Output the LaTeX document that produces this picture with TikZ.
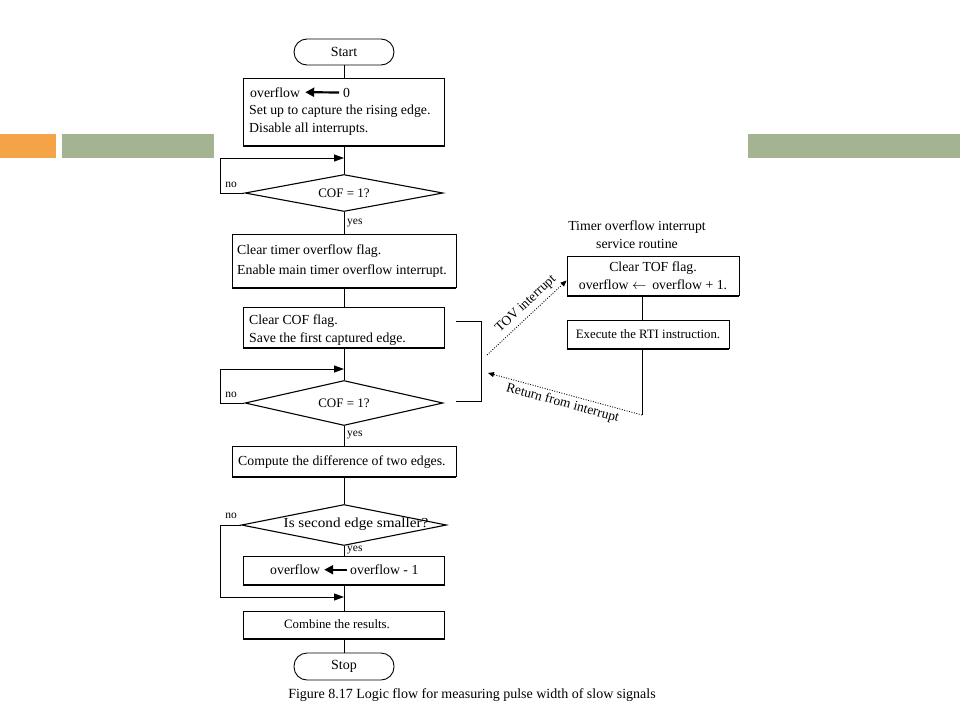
\documentclass[tikz,border=0pt]{standalone}
\usepackage{fontspec}
\setmainfont{Liberation Serif}
\usetikzlibrary{arrows.meta,shapes.geometric,calc}
\definecolor{slorange}{RGB}{244,164,70}
\definecolor{slgreen}{RGB}{164,180,146}
\begin{document}
\begin{tikzpicture}[x=1pt,y=-1pt,
  every node/.style={inner sep=0pt, font=\fontsize{13.8}{18}\selectfont},
  box/.style={draw, line width=0.9pt, append after command={([yshift=-0.4pt]\tikzlastnode.south west) edge[line width=1.8pt] ([yshift=-0.4pt]\tikzlastnode.south east)}},
  term/.style={draw, line width=0.9pt, rounded corners=13pt, font=\fontsize{14}{16}\selectfont},
  dec/.style={draw, shape=diamond, line width=1.1pt, aspect=5.5, font=\fontsize{13}{15}\selectfont},
  flow/.style={line width=0.9pt},
  loopar/.style={line width=1pt, -{Triangle[length=10pt,width=7pt]}},
  bigar/.style={line width=2.2pt, -{Triangle[length=9pt,width=9pt]}},
  dotar/.style={line width=0.9pt, dash pattern=on 0.9pt off 1.6pt, -{Triangle[length=6pt,width=5pt]}},
  lab/.style={font=\fontsize{11.5}{13}\selectfont}]
\useasboundingbox (0,0) rectangle (960,720);
% slide decoration
\fill[slorange] (0,134) rectangle (56,158);
\fill[slgreen] (62,134) rectangle (214,158);
\fill[slgreen] (748,134) rectangle (960,158);

% main column
\node[term, minimum width=100pt, minimum height=26pt] (start) at (344,52) {Start};
\node[box, minimum width=201pt, minimum height=67pt] (b1) at (344,111.5) {};
\node[anchor=base west] (ov1) at (250,97) {overflow};
\node[anchor=base west] (z1) at (343,97) {0};
\node[anchor=base west] (t1b) at (249,114.5) {Set up to capture the rising edge.};
\node[anchor=base west] (t1c) at (249,132) {Disable all interrupts.};
\draw[bigar] ([xshift=-4pt]z1.west) -- ([xshift=5pt]ov1.east);

\node[dec, minimum width=198pt, minimum height=37pt] (d1) at (344,193) {COF = 1?};
\node[box, minimum width=224pt, minimum height=53pt] (b2) at (344,260.5) {};
\node[anchor=base west] (t2a) at (237,254) {Clear timer overflow flag.};
\node[anchor=base west] (t2b) at (237,274) {Enable main timer overflow interrupt.};
\node[box, minimum width=201pt, minimum height=40pt] (b3) at (344,327) {};
\node[anchor=base west] (t3a) at (249,324.5) {Clear COF flag.};
\node[anchor=base west] (t3b) at (249,342) {Save the first captured edge.};
\node[dec, minimum width=198pt, minimum height=45pt] (d2) at (344,403) {COF = 1?};
\node[box, minimum width=224pt, minimum height=30pt] (b4) at (344,461) {};
\node[anchor=base west] (t4) at (238,465.5) {Compute the difference of two edges.};
\node[dec, minimum width=205pt, minimum height=41pt] (d3) at (344,525) {};
\node (t5q) at (356,524) {\scalebox{1.1}[1]{\fontsize{13.8}{15}\selectfont Is second edge smaller?}};
\node[box, minimum width=201pt, minimum height=28pt] (b5) at (344,570) {};
\node[anchor=base west] (ov5) at (270,574.5) {overflow};
\node[anchor=base west] (ov5b) at (350,574.5) {overflow - 1};
\draw[bigar] ([xshift=-3pt]ov5b.west) -- ([xshift=4pt]ov5.east);
\node[box, minimum width=201pt, minimum height=27pt] (b6) at (344,624.5) {};
\node[font=\fontsize{12.8}{15}\selectfont] (t6) at (337,624.5) {Combine the results.};
\node[term, minimum width=100pt, minimum height=27pt] (stop) at (344,666.5) {Stop};

% labels
\node[lab] (no1) at (231,185) {no};
\node[lab] (no2) at (231,395) {no};
\node[lab] (no3) at (231,516) {no};
\node[lab, anchor=west] (yes1) at (347,223) {yes};
\node[lab, anchor=west] (yes2) at (347,435) {yes};
\node[lab, anchor=west] (yes3) at (347,550) {yes};

% coordinates
\coordinate (lx) at (220,0);
\coordinate (c1) at (344,158);
\coordinate (c2) at (344,369);
\coordinate (c3) at (344,597);

% main connectors
\draw[flow] (start.south) -- (b1.north);
\draw[flow] (b1.south) -- (d1.north);
\draw[flow] (d1.south) -- (b2.north);
\draw[flow] (b2.south) -- (b3.north);
\draw[flow] (b3.south) -- (d2.north);
\draw[flow] (d2.south) -- (b4.north);
\draw[flow] (b4.south) -- (d3.north);
\draw[flow] (d3.south) -- (b5.north);
\draw[flow] (b5.south) -- (b6.north);
\draw[flow] (b6.south) -- (stop.north);
\draw[loopar] (d1.west) -- (d1.west -| lx) |- (c1);
\draw[loopar] (d2.west) -- (d2.west -| lx) |- (c2);
\draw[loopar] (d3.west) -- (d3.west -| lx) |- (c3);

% bracket
\coordinate (br1) at (456,321);
\coordinate (br2) at (481,321);
\coordinate (br3) at (481,401);
\coordinate (br4) at (456,401);
\draw[flow] (br1) -- (br2) -- (br3) -- (br4);

% interrupt service routine
\node[align=center] (isr) at (637,235) {\fontsize{13.8}{16}\selectfont Timer overflow interrupt\\ service routine};
\node[box, minimum width=172pt, minimum height=39pt, align=center] (r1) at (653,275.5) {Clear TOF flag.\\overflow $\leftarrow$\, overflow + 1.};
\node[box, minimum width=162pt, minimum height=28pt, font=\fontsize{12.8}{15}\selectfont] (r2) at (648,334) {Execute the RTI instruction.};
\coordinate (lnx) at (642,0);
\coordinate (rend) at (642,415);
\draw[flow] (r1.south -| lnx) -- (r2.north -| lnx);
\draw[flow] (r2.south -| lnx) -- (rend);

\coordinate (tovs) at (487,355);
\coordinate (rets) at (488,373);
\draw[dotar] (tovs) -- node[pos=0.58, sloped, above=4pt, font=\fontsize{13.5}{15}\selectfont] (tovl) {TOV interrupt} ([yshift=-5pt]r1.west);
\draw[dotar] (rend) -- node[sloped, below=3pt, font=\fontsize{13.5}{15}\selectfont] (retl) {Return from interrupt} (rets);

% caption
\node[font=\fontsize{14}{16}\selectfont] (cap) at (472,695) {Figure 8.17 Logic flow for measuring pulse width of slow signals};
\end{tikzpicture}
\end{document}
